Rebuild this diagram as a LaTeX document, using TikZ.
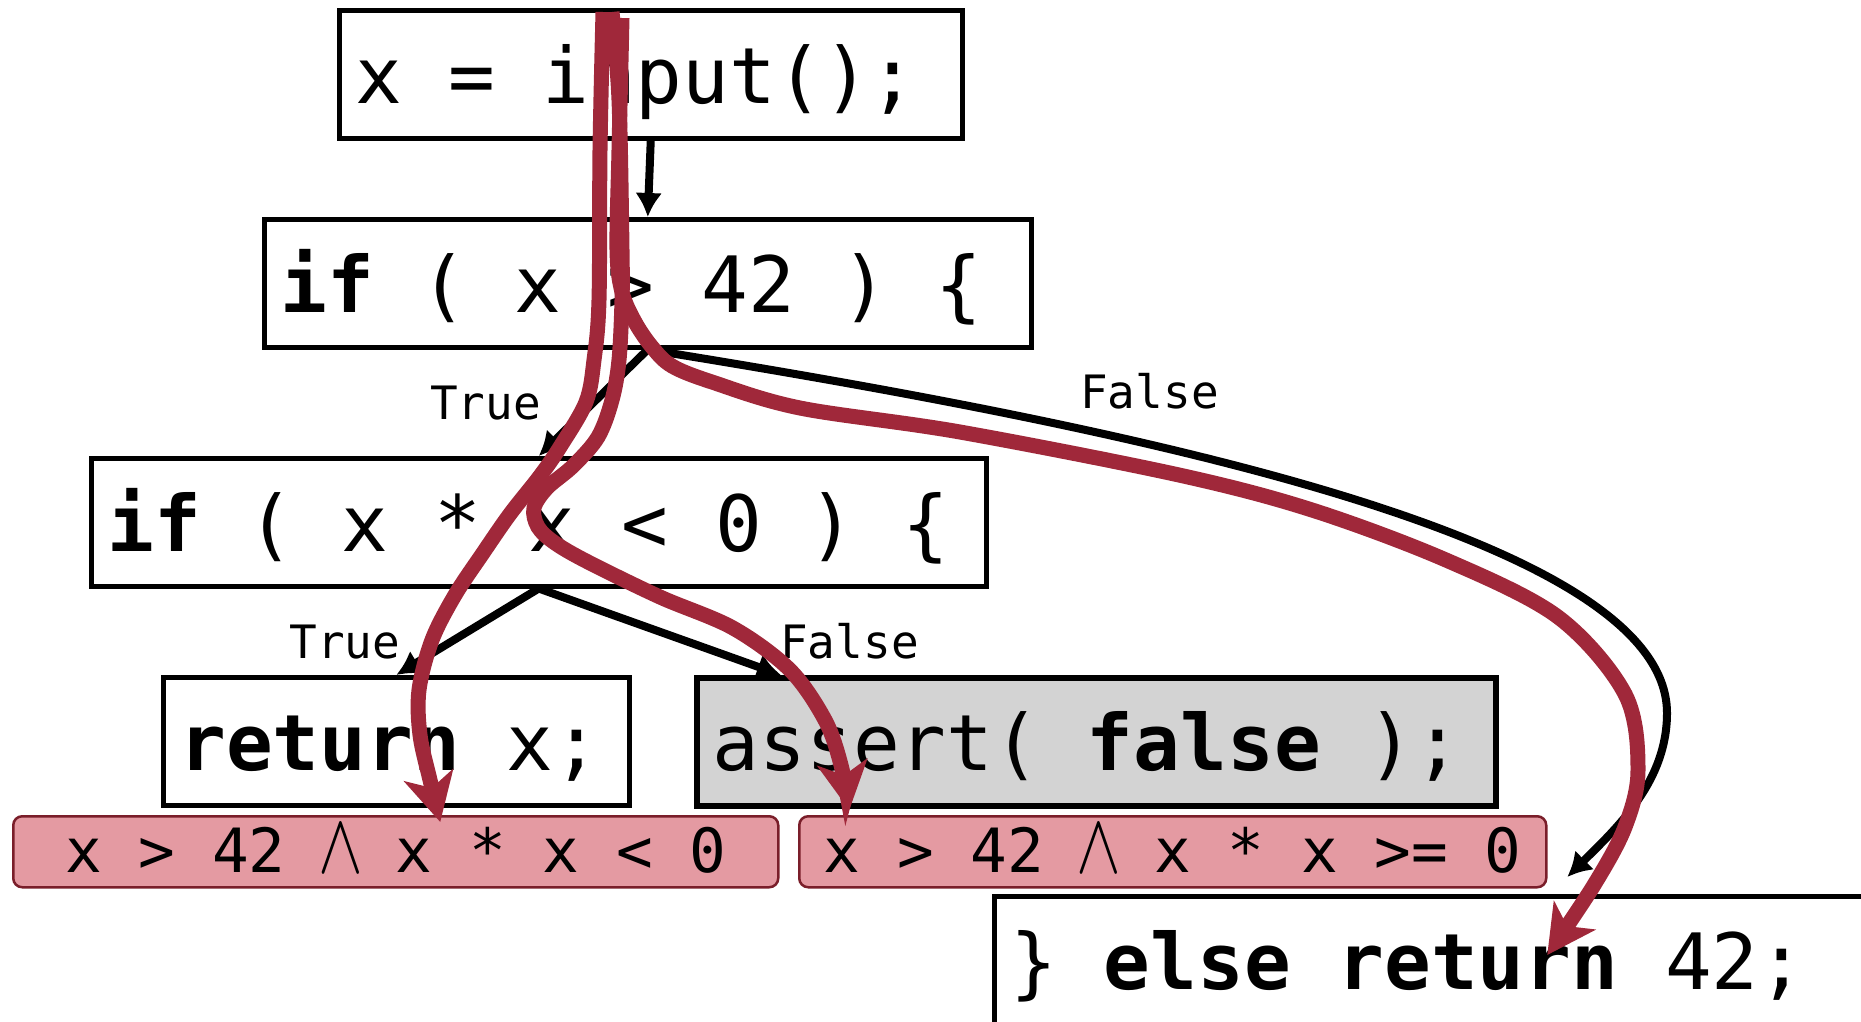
\RequirePackage{fix-cm}
\documentclass[tikz,border=0pt]{standalone}
\usepackage{fontspec}
\usepackage{graphicx}
\setmonofont{DejaVu Sans Mono}
\usetikzlibrary{arrows.meta}
\definecolor{trace}{RGB}{160,40,58}
\definecolor{pinkfill}{RGB}{228,154,162}
\definecolor{pinkline}{RGB}{122,30,42}
\definecolor{grayfill}{RGB}{211,211,211}
\newcommand{\landop}{\makebox[0.602em]{\scalebox{1.1}[1.4]{$\wedge$}}}
\begin{document}
\begin{tikzpicture}[x=1pt,y=-1pt,
  codebox/.style={draw=black, line width=4.5pt, rectangle, anchor=north west,
    inner xsep=16pt, inner ysep=0pt, minimum height=128pt, text width=#1,
    font=\ttfamily\fontsize{77.7pt}{90pt}\selectfont, text height=70pt, text depth=12pt,
    execute at begin node={\spaceskip=0.602em\xspaceskip=0.602em\relax}},
  pinkbox/.style={draw=pinkline, line width=2.5pt, fill=pinkfill, rounded corners=9pt,
    anchor=north west, minimum width=#1, minimum height=71pt, inner sep=0pt,
    font=\ttfamily\fontsize{61pt}{70pt}\selectfont, text height=50pt, text depth=9pt},
  lbl/.style={anchor=base, inner sep=0pt, font=\ttfamily\fontsize{46pt}{50pt}\selectfont},
  flow/.style={draw=black, line width=8pt, -{Latex[length=24pt,width=27pt]}},
  tracearrow/.style={draw=trace, line width=15pt, -{Stealth[length=48pt,width=50pt,inset=13pt]}}
]
\useasboundingbox (0,0) rectangle (1861,1021);

% code boxes
\node[codebox=591pt] (b1) at (337,8) {x = input();};
\node[codebox=735pt] (b2) at (262,217) {\textbf{if} ( x > 42 ) \{};
\node[codebox=863pt] (b3) at (89,456) {\textbf{if} ( x * x < 0 ) \{};
\node[codebox=434pt] (b4) at (161,675) {\textbf{return} x;};
\node[codebox=767pt, fill=grayfill, line width=5.5pt] (b5) at (694,675) {assert( \textbf{false} );};
\node[codebox=1114pt] (b6) at (992,894) {\} \textbf{else return} 42;};

% control-flow edges
\coordinate (fm) at (1667,713);
\coordinate (fe) at ([yshift=17pt]b6.north);
\draw[flow] (b1.south) -- (b2.north);
\draw[flow] (b2.south) -- (b3.north);
\draw[flow] (b3.south) -- (b4.north);
\draw[flow] (b3.south) -- ([xshift=87pt]b5.north west);
\draw[flow] (b2.south) .. controls (1150,430) and (1667,540) .. (fm)
   .. controls (1667,780) and (1620,825) .. (fe);

% edge labels
\node[lbl] (l1) at (485.5,419) {True};
\node[lbl] (l2) at (1149.5,408.5) {False};
\node[lbl] (l3) at (345,658) {True};
\node[lbl] (l4) at (849.5,658) {False};

% path conditions
\node[pinkbox=765pt] (p1) at (12,815) {x > 42 \landop{} x * x < 0};
\node[pinkbox=747pt] (p2) at (798,815) {x > 42 \landop{} x * x >= 0};

% execution traces
\coordinate (tL) at (603,12);
\coordinate (tM) at (612,12);
\coordinate (tC) at (622,18);
\coordinate (eL) at ([xshift=44.5pt,yshift=-7pt]p1.north);
\coordinate (eM) at ([xshift=-323.5pt,yshift=5pt]p2.north);
\coordinate (eC) at ([xshift=-20pt,yshift=-61pt]b6.north);

\draw[tracearrow] plot[smooth, tension=0.55] coordinates {(tL) (600,150) (599,300) (594,360) (586,402) (560,447) (540,476) (510,514) (483,553) (455,595) (432,640) (419,690) (420,735) (430,780) (eL)};
\draw[tracearrow] plot[smooth, tension=0.55] coordinates {(tM) (619,100) (622,250) (622,300) (619,360) (612,400) (598,437) (573,466) (547,488) (534,508) (538,527) (555,543) (588,562) (660,597) (733,628) (790,670) (825,720) (841,765) (eM)};
\draw[tracearrow] plot[smooth, tension=0.55] coordinates {(tC) (619,150) (617,250) (622,292) (635,322) (652,347) (672,366) (712,382) (800,408) (960,432) (1179,475) (1312,510) (1446,560) (1558,617) (1625,694) (1638,770) (1625,827) (1594,885) (eC)};
\end{tikzpicture}
\end{document}
